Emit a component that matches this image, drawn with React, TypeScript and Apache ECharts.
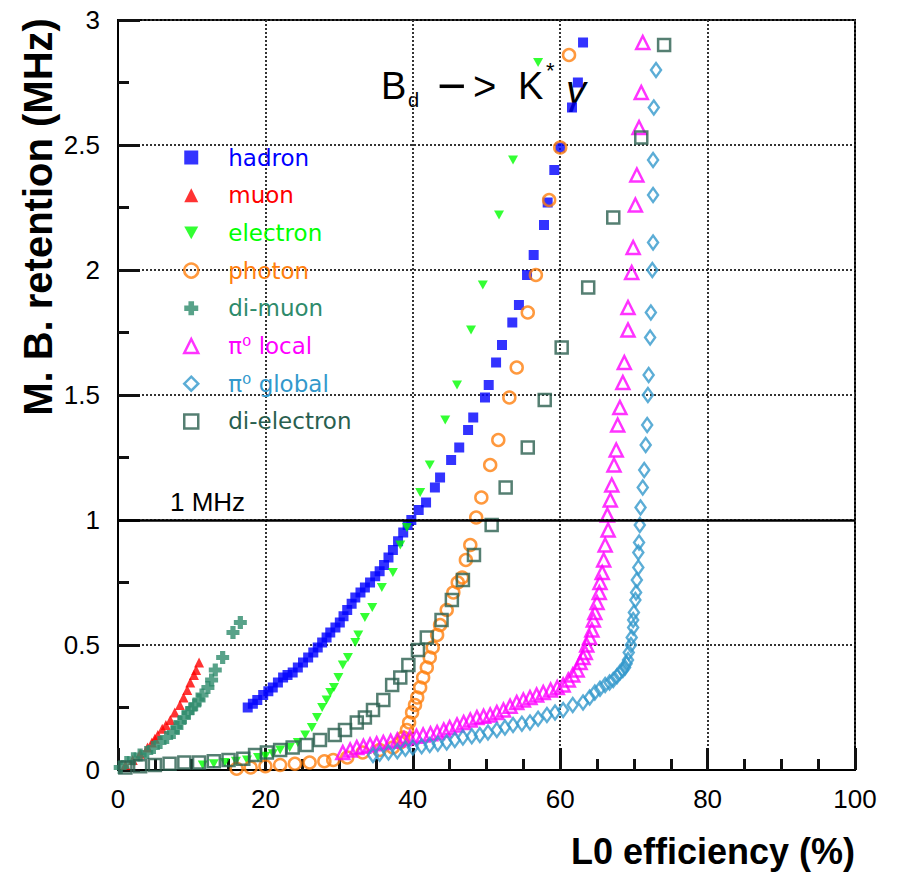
import React, { useEffect, useRef } from "react";
import * as echarts from "echarts";

// ---- data (L0 efficiency %, M.B. retention MHz) ----
const hadron: number[][] = [[17.6,0.25],[18.3,0.265],[18.9,0.28],[19.7,0.30],[20.4,0.315],[21.0,0.33],[21.7,0.35],[22.4,0.37],[23.0,0.38],[23.7,0.39],[24.4,0.41],[25.1,0.43],[25.8,0.45],[26.5,0.47],[27.1,0.49],[27.7,0.51],[28.3,0.53],[28.8,0.55],[29.5,0.57],[30.1,0.59],[30.6,0.615],[31.1,0.64],[31.7,0.665],[32.2,0.69],[32.9,0.71],[33.5,0.73],[34.2,0.75],[34.9,0.775],[35.5,0.795],[36.1,0.82],[36.7,0.85],[37.3,0.88],[38.0,0.915],[38.7,0.95],[39.3,0.98],[39.8,1.0],[40.8,1.04],[41.8,1.07],[43.0,1.13],[43.7,1.17],[45.2,1.24],[46.3,1.29],[47.5,1.36],[48.2,1.41],[49.8,1.49],[50.3,1.54],[51.3,1.63],[52.1,1.70],[53.5,1.79],[54.4,1.86],[55.5,1.98],[56.4,2.06],[57.8,2.18],[58.3,2.27],[59.2,2.40],[60.0,2.49],[61.6,2.65],[62.4,2.75],[63.1,2.91]];
const muon: number[][] = [[1.0,0.02],[2.0,0.04],[3.0,0.065],[4.0,0.09],[4.6,0.11],[5.0,0.125],[5.4,0.14],[6.0,0.165],[6.5,0.18],[7.1,0.20],[7.7,0.23],[8.4,0.26],[8.9,0.29],[9.4,0.32],[9.8,0.35],[10.3,0.38],[10.6,0.40],[11.0,0.43]];
const electron: number[][] = [[11.5,0.02],[13.0,0.025],[14.5,0.03],[16.0,0.035],[17.5,0.04],[19.0,0.05],[20.0,0.055],[21.0,0.065],[22.0,0.08],[23.3,0.09],[24.4,0.11],[25.4,0.14],[26.3,0.17],[27.0,0.21],[27.7,0.25],[28.3,0.28],[28.8,0.31],[29.3,0.33],[29.9,0.37],[30.5,0.42],[31.2,0.45],[32.2,0.51],[32.6,0.54],[33.5,0.61],[34.5,0.65],[35.8,0.73],[37.3,0.79],[38.3,0.90],[39.2,0.97],[41.0,1.11],[42.3,1.22],[44.4,1.40],[46.0,1.54],[47.9,1.76],[49.5,1.94],[51.7,2.22],[53.6,2.44],[57.0,2.83]];
const photon: number[][] = [[16.1,0.005],[18.0,0.01],[20.0,0.015],[22.0,0.02],[24.0,0.025],[26.0,0.03],[28.0,0.035],[29.2,0.04],[31.1,0.05],[33.2,0.07],[35.5,0.08],[37.3,0.09],[38.3,0.11],[38.7,0.13],[39.2,0.16],[39.5,0.19],[39.9,0.23],[40.3,0.26],[40.6,0.29],[41.0,0.33],[41.4,0.37],[41.9,0.41],[42.3,0.45],[42.7,0.49],[43.3,0.54],[43.7,0.58],[44.6,0.64],[45.5,0.71],[46.1,0.75],[46.7,0.77],[47.2,0.84],[47.8,0.90],[48.6,1.01],[49.3,1.09],[50.5,1.22],[51.6,1.32],[53.1,1.49],[54.1,1.61],[55.6,1.83],[56.7,1.98],[58.5,2.28],[60.0,2.49],[61.2,2.86]];
const diMuon: number[][] = [[0.3,0.01],[1.2,0.03],[2.1,0.045],[3.0,0.06],[3.9,0.07],[4.8,0.09],[5.7,0.11],[6.6,0.13],[7.5,0.15],[8.0,0.17],[8.4,0.19],[9.0,0.21],[9.5,0.23],[10.0,0.245],[10.4,0.26],[11.0,0.28],[11.4,0.30],[12.2,0.33],[12.7,0.36],[13.2,0.40],[14.2,0.45],[15.6,0.55],[16.6,0.59]];
const pi0Local: number[][] = [[30.5,0.07],[31.5,0.08],[32.4,0.09],[33.3,0.095],[34.2,0.10],[35.1,0.105],[36.0,0.11],[37.0,0.115],[37.9,0.12],[38.8,0.125],[39.6,0.13],[40.5,0.135],[41.4,0.14],[42.4,0.145],[43.3,0.15],[44.2,0.16],[45.0,0.17],[46.0,0.18],[46.9,0.19],[47.8,0.20],[48.7,0.21],[49.6,0.215],[50.5,0.22],[51.4,0.23],[52.3,0.24],[53.2,0.255],[54.1,0.27],[55.0,0.28],[55.9,0.29],[56.8,0.30],[57.7,0.31],[58.7,0.32],[59.6,0.33],[60.4,0.34],[61.1,0.36],[61.7,0.38],[62.3,0.40],[62.7,0.43],[63.1,0.45],[63.4,0.47],[63.6,0.50],[64.0,0.53],[64.3,0.56],[64.5,0.60],[64.7,0.63],[65.0,0.67],[65.3,0.71],[65.4,0.75],[65.7,0.79],[65.9,0.84],[66.1,0.90],[66.5,0.96],[66.4,1.02],[66.8,1.08],[67.0,1.14],[67.3,1.22],[67.6,1.28],[67.8,1.38],[68.1,1.45],[68.5,1.55],[68.7,1.63],[69.2,1.76],[69.2,1.85],[69.7,1.99],[69.9,2.09],[70.2,2.26],[70.4,2.38],[70.7,2.57],[71.0,2.71],[71.2,2.91]];
const pi0Global: number[][] = [[34.6,0.06],[35.5,0.065],[36.7,0.07],[37.9,0.075],[39.0,0.085],[40.0,0.09],[41.2,0.095],[42.3,0.10],[43.4,0.105],[44.6,0.11],[45.7,0.12],[46.8,0.13],[48.0,0.135],[49.1,0.14],[50.2,0.15],[51.4,0.16],[52.5,0.17],[53.6,0.18],[54.8,0.185],[55.9,0.19],[57.0,0.205],[58.2,0.22],[59.3,0.23],[60.4,0.24],[61.7,0.26],[63.1,0.27],[64.0,0.29],[64.7,0.31],[65.4,0.325],[66.1,0.34],[66.7,0.35],[67.2,0.36],[67.7,0.375],[68.1,0.39],[68.5,0.40],[68.8,0.41],[69.0,0.425],[69.2,0.44],[69.3,0.47],[69.6,0.50],[69.7,0.53],[69.9,0.57],[69.9,0.60],[70.0,0.63],[70.2,0.68],[70.3,0.71],[70.4,0.76],[70.6,0.81],[70.6,0.87],[70.7,0.91],[70.8,0.98],[70.9,1.05],[71.2,1.13],[71.4,1.20],[71.6,1.30],[71.8,1.38],[71.9,1.50],[72.0,1.58],[72.2,1.73],[72.3,1.83],[72.5,2.00],[72.6,2.11],[72.6,2.30],[72.6,2.44],[72.7,2.65],[73.0,2.80]];
const diElectron: number[][] = [[1.0,0.01],[3.0,0.015],[5.0,0.02],[7.0,0.025],[9.0,0.03],[11.0,0.03],[13.0,0.035],[15.0,0.04],[17.0,0.045],[18.6,0.06],[20.2,0.07],[22.0,0.08],[23.7,0.09],[25.6,0.10],[27.4,0.12],[29.4,0.14],[30.8,0.16],[32.4,0.19],[33.5,0.21],[34.6,0.24],[36.0,0.28],[37.2,0.34],[38.3,0.37],[39.4,0.42],[40.7,0.48],[41.9,0.53],[43.9,0.60],[45.3,0.68],[46.8,0.76],[48.3,0.86],[50.7,0.98],[52.6,1.13],[55.6,1.29],[57.9,1.48],[60.2,1.69],[63.8,1.93],[67.2,2.21],[71.0,2.53],[74.1,2.90]];

const xRange = [0, 100];
const yRange = [0, 3];
const xLabelTitle = "L0 efficiency (%)";
const yLabelTitle = "M. B. retention (MHz)";
const rateLimit = 1; // MHz line

const CROSS = "path://M3.6,0 H8.4 V3.6 H12 V8.4 H8.4 V12 H3.6 V8.4 H0 V3.6 H3.6 Z";
const DOWN_TRI = "path://M0,0 L12,0 L6,11 Z";

type Def = { name: string; data: number[][]; color: string; symbol: string; size: any; hollow?: boolean };

const defs: Def[] = [
  { name: "hadron", data: hadron, color: "#0000ff", symbol: "rect", size: 10 },
  { name: "muon", data: muon, color: "#ff0000", symbol: "triangle", size: 10 },
  { name: "electron", data: electron, color: "#00ff00", symbol: DOWN_TRI, size: 10 },
  { name: "photon", data: photon, color: "#ff7f0e", symbol: "circle", size: 12, hollow: true },
  { name: "di-muon", data: diMuon, color: "#2e8b6b", symbol: CROSS, size: 13 },
  { name: "π⁰ local", data: pi0Local, color: "#ff00ff", symbol: "triangle", size: 13, hollow: true },
  { name: "π⁰ global", data: pi0Global, color: "#3399cc", symbol: "diamond", size: [10, 14], hollow: true },
  { name: "di-electron", data: diElectron, color: "#2a5f4f", symbol: "rect", size: 12, hollow: true },
];

export default function App() {
  const ref = useRef<HTMLDivElement>(null);
  useEffect(() => {
    document.body.style.margin = "0";
    const chart = echarts.init(ref.current!, null, { renderer: "svg" });
    const tickFont = "Liberation Sans";
    const series: any[] = defs.map((d, i) => ({
      type: "scatter",
      name: d.name,
      data: d.data,
      symbol: d.symbol,
      symbolSize: d.size,
      symbolKeepAspect: true,
      itemStyle: d.hollow
        ? { color: "rgba(0,0,0,0)", borderColor: d.color, borderWidth: 2.5 }
        : { color: d.color },
      emphasis: { disabled: true },
      markLine: i === 0 ? {
        silent: true,
        symbol: ["none", "none"],
        label: { show: false },
        lineStyle: { color: "#000", width: 2.5, type: "solid" },
        data: [{ yAxis: rateLimit }],
      } : undefined,
    }));
    const mkAxis = (min: number, max: number, interval: number, minorSplit: number, margin: number) => ({
      type: "value", min, max, interval,
      axisLine: { show: true, onZero: false, lineStyle: { color: "#000", width: 2 } },
      axisTick: { show: true, inside: true, length: 22, lineStyle: { color: "#111111", width: 3 } },
      minorTick: { show: true, splitNumber: minorSplit, length: 11, lineStyle: { color: "#111111", width: 3 } },
      splitLine: { show: true, lineStyle: { color: "#333", width: 2, type: [2, 2] } },
      axisLabel: { color: "#000", fontFamily: tickFont, fontSize: 26, margin },
    });
    chart.setOption({
      animation: false,
      backgroundColor: "#fff",
      grid: { left: 118, right: 43, top: 20, bottom: 102, show: true, borderColor: "#000", borderWidth: 2, containLabel: false },
      xAxis: mkAxis(xRange[0], xRange[1], 20, 4, 16),
      yAxis: mkAxis(yRange[0], yRange[1], 0.5, 2, 18),
      legend: {
        orient: "vertical", left: 183, top: 146, padding: 0,
        itemWidth: 14, itemHeight: 14, itemGap: 14.7,
        selectedMode: false,
        textStyle: { fontFamily: "DejaVu Sans", fontSize: 23, lineHeight: 23, padding: [0, 0, 0, 25] },
        data: defs.map((d) => ({
          name: d.name,
          textStyle: { color: d.color },
          itemStyle: d.hollow
            ? { color: "rgba(0,0,0,0)", borderColor: d.color, borderWidth: 2.5 }
            : { color: d.color, borderWidth: 0 },
        })),
      },
      graphic: [
        { type: "text", x: 38, y: 217, rotation: Math.PI / 2,
          style: { text: yLabelTitle, font: "bold 40px 'Liberation Sans'", fill: "#000", align: "center", verticalAlign: "middle" } },
        { type: "text", x: 855, y: 851,
          style: { text: xLabelTitle, font: "bold 36px 'Liberation Sans'", fill: "#000", align: "right", verticalAlign: "middle" } },
        { type: "text", x: 170, y: 502,
          style: { text: "1 MHz", font: "26px 'Liberation Sans'", fill: "#000", align: "left", verticalAlign: "middle" } },
        { type: "text", x: 381, y: 86,
          style: { text: "B", font: "38px 'Liberation Sans'", fill: "#000", align: "left", verticalAlign: "middle" } },
        { type: "text", x: 408, y: 100,
          style: { text: "d", font: "20px 'Liberation Sans'", fill: "#000", align: "left", verticalAlign: "middle" } },
        { type: "text", x: 437, y: 86,
          style: { text: "−", font: "50px 'Liberation Sans'", fill: "#000", align: "left", verticalAlign: "middle" } },
        { type: "text", x: 473, y: 86,
          style: { text: ">", font: "40px 'Liberation Sans'", fill: "#000", align: "left", verticalAlign: "middle" } },
        { type: "text", x: 518, y: 86,
          style: { text: "K", font: "38px 'Liberation Sans'", fill: "#000", align: "left", verticalAlign: "middle" } },
        { type: "text", x: 546, y: 70,
          style: { text: "*", font: "22px 'Liberation Sans'", fill: "#000", align: "left", verticalAlign: "middle" } },
        { type: "text", x: 566, y: 90,
          style: { text: "γ", font: "italic 40px 'Liberation Sans'", fill: "#000", align: "left", verticalAlign: "middle" } },
      ],
      series,
    });
    return () => chart.dispose();
  }, []);
  return <div ref={ref} style={{ width: 898, height: 872 }} />;
}
